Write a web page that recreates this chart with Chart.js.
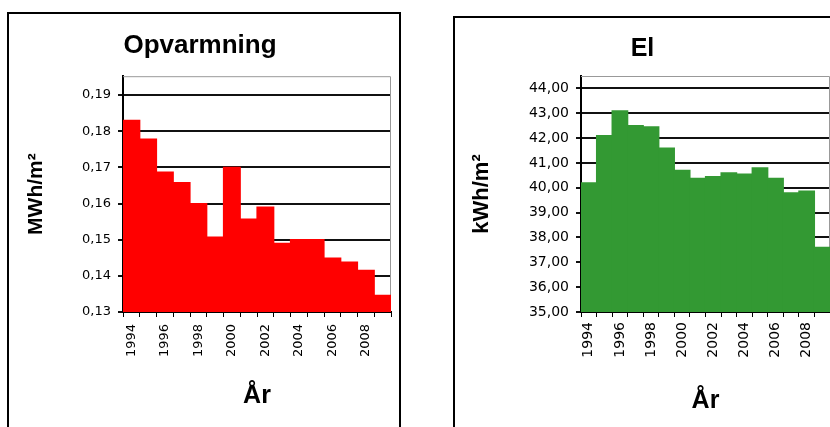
<!DOCTYPE html>
<html lang="da">
<head>
  <meta charset="UTF-8">
  <title>Opvarmning og El</title>
  <script src="https://cdn.jsdelivr.net/npm/chart.js"></script>
  <style>
    html, body { margin: 0; padding: 0; background: #fff; overflow: hidden; width: 830px; height: 427px; }
    .box { position: absolute; border: 2px solid #000; background: #fff; }
    canvas { position: absolute; }
  </style>
</head>
<body>
  <div class="box" style="left:7px; top:12px; width:390px; height:430px;"></div>
  <div class="box" style="left:453px; top:16px; width:420px; height:430px;"></div>
  <canvas id="heatChart" width="390" height="413" style="left:9px; top:14px;"></canvas>
  <canvas id="elChart" width="375" height="409" style="left:455px; top:18px;"></canvas>

  <script>
    // data
    const years = ['1994', '1995', '1996', '1997', '1998', '1999', '2000', '2001',
                   '2002', '2003', '2004', '2005', '2006', '2007', '2008', '2009'];
    const heatValues = [0.183, 0.1778, 0.1687, 0.1658, 0.160, 0.1507, 0.170, 0.1557,
                        0.159, 0.149, 0.150, 0.150, 0.1449, 0.1438, 0.1415, 0.1346];
    const elValues = [40.2, 42.1, 43.1, 42.5, 42.45, 41.6, 40.7, 40.38,
                      40.45, 40.6, 40.55, 40.8, 40.38, 39.8, 39.87, 37.6];
    const heatTicks = [0.13, 0.14, 0.15, 0.16, 0.17, 0.18, 0.19];
    const elTicks = [35, 36, 37, 38, 39, 40, 41, 42, 43, 44];

    // grey top/right edge of the plot area, like the Excel original
    const plotFrame = {
      id: 'plotFrame',
      beforeDatasetsDraw(chart) {
        const a = chart.chartArea;
        const ctx = chart.ctx;
        ctx.save();
        ctx.strokeStyle = '#999';
        ctx.lineWidth = 1;
        ctx.beginPath();
        ctx.moveTo(a.left, a.top + 0.5);
        ctx.lineTo(a.right - 0.5, a.top + 0.5);
        ctx.lineTo(a.right - 0.5, a.bottom);
        ctx.stroke();
        ctx.restore();
      }
    };

    function makeChart(id, cfg) {
      new Chart(document.getElementById(id), {
        type: 'bar',
        data: {
          labels: years,
          datasets: [{
            data: cfg.values,
            backgroundColor: cfg.color,
            borderWidth: 0,
            inflateAmount: 0.6,
            barPercentage: 1,
            categoryPercentage: 1
          }]
        },
        plugins: [plotFrame],
        options: {
          responsive: false,
          animation: false,
          devicePixelRatio: 1,
          layout: { padding: { left: 0, right: cfg.padRight, top: 0, bottom: 0 } },
          plugins: {
            legend: { display: false },
            tooltip: { enabled: false },
            title: {
              display: true,
              text: cfg.title,
              color: '#000',
              font: { family: 'Liberation Sans, Arial', size: cfg.titleSize, weight: 'bold' },
              padding: { top: cfg.titleTop, bottom: cfg.titleBottom }
            }
          },
          scales: {
            x: {
              afterFit(s) { s.height = 115; s.paddingLeft = 0; s.paddingRight = 0; },
              grid: { drawOnChartArea: false, drawTicks: true, tickLength: 5, color: '#000', lineWidth: 1 },
              border: { color: '#000', width: 2 },
              ticks: {
                autoSkip: false,
                maxRotation: 90,
                minRotation: 90,
                padding: cfg.xPad,
                color: '#000',
                font: { family: 'DejaVu Sans', size: cfg.tickSize },
                callback(v, i) { return i % 2 === 0 ? years[i] : ''; }
              },
              title: {
                display: true,
                text: 'År',
                color: '#000',
                font: { family: 'Liberation Sans, Arial', size: 25, weight: 'bold' },
                padding: { top: 0, bottom: cfg.xTitleBottom }
              }
            },
            y: {
              min: cfg.min,
              max: cfg.max,
              afterFit(s) { s.width = cfg.yWidth; s.paddingTop = 0; s.paddingBottom = 0; },
              afterBuildTicks(s) { s.ticks = cfg.ticks.map(v => ({ value: v })); },
              grid: { color: '#111', lineWidth: 2, tickLength: 5 },
              border: { color: '#000', width: 2 },
              ticks: {
                padding: 7,
                color: '#000',
                font: { family: 'DejaVu Sans', size: cfg.tickSize },
                callback(v) { return Number(v).toFixed(2).replace('.', ','); }
              },
              title: {
                display: true,
                text: cfg.unit,
                color: '#000',
                font: { family: 'Liberation Sans, Arial', size: cfg.unitSize, weight: 'bold' },
                padding: { top: cfg.unitPad, bottom: 0 }
              }
            }
          }
        }
      });
    }

    makeChart('heatChart', {
      values: heatValues, color: '#ff0000', title: 'Opvarmning', titleSize: 26,
      titleTop: 16, titleBottom: 15, min: 0.13, max: 0.1952, ticks: heatTicks,
      unit: 'MWh/m²', unitSize: 21, unitPad: 15, yWidth: 114, padRight: 8,
      tickSize: 13, xPad: 7, xTitleBottom: 16
    });

    makeChart('elChart', {
      values: elValues, color: '#339933', title: 'El', titleSize: 25,
      titleTop: 16, titleBottom: 12, min: 35, max: 44.5, ticks: elTicks,
      unit: 'kWh/m²', unitSize: 22, unitPad: 14, yWidth: 126, padRight: 0,
      tickSize: 14, xPad: 5, xTitleBottom: 11
    });
  </script>
</body>
</html>
